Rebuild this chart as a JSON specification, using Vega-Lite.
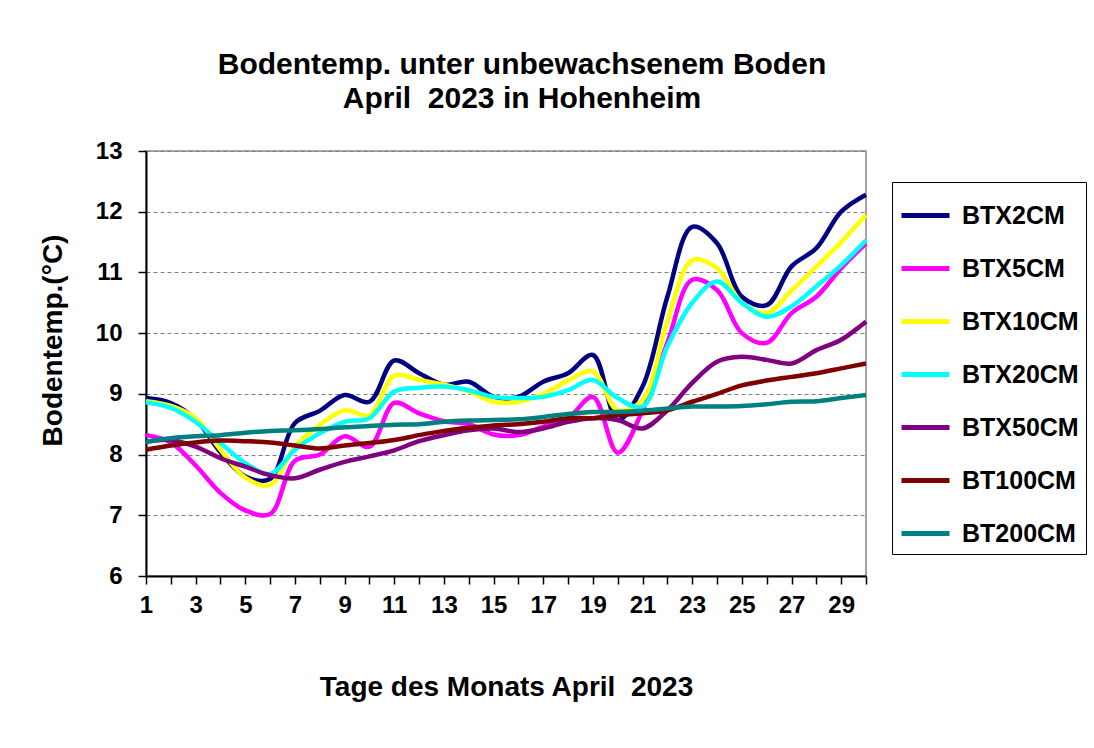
{
  "$schema": "https://vega.github.io/schema/vega-lite/v6.json",
  "width": 720,
  "height": 425,
  "autosize": {"type": "none"},
  "padding": {"left": 146, "top": 151, "right": 228, "bottom": 172},
  "background": "white",
  "title": {
    "text": ["Bodentemp. unter unbewachsenem Boden", "April\u00a0 2023 in Hohenheim"],
    "font": "Liberation Sans",
    "fontSize": 30,
    "fontWeight": "bold",
    "color": "black",
    "anchor": "middle",
    "dx": 16,
    "offset": 25,
    "lineHeight": 34
  },
  "data": {
    "values": [
      {"day": 1, "BTX2CM": 8.93, "BTX5CM": 8.32, "BTX10CM": 8.88, "BTX20CM": 8.86, "BTX50CM": 8.21, "BT100CM": 8.08, "BT200CM": 8.21},
      {"day": 2, "BTX2CM": 8.85, "BTX5CM": 8.2, "BTX10CM": 8.8, "BTX20CM": 8.77, "BTX50CM": 8.24, "BT100CM": 8.15, "BT200CM": 8.27},
      {"day": 3, "BTX2CM": 8.58, "BTX5CM": 7.82, "BTX10CM": 8.6, "BTX20CM": 8.54, "BTX50CM": 8.13, "BT100CM": 8.2, "BT200CM": 8.3},
      {"day": 4, "BTX2CM": 8.04, "BTX5CM": 7.37, "BTX10CM": 8.08, "BTX20CM": 8.19, "BTX50CM": 7.94, "BT100CM": 8.23, "BT200CM": 8.32},
      {"day": 5, "BTX2CM": 7.64, "BTX5CM": 7.08, "BTX10CM": 7.62, "BTX20CM": 7.86, "BTX50CM": 7.8, "BT100CM": 8.22, "BT200CM": 8.36},
      {"day": 6, "BTX2CM": 7.6, "BTX5CM": 7.02, "BTX10CM": 7.5, "BTX20CM": 7.68, "BTX50CM": 7.66, "BT100CM": 8.2, "BT200CM": 8.39},
      {"day": 7, "BTX2CM": 8.52, "BTX5CM": 7.9, "BTX10CM": 8.13, "BTX20CM": 8.08, "BTX50CM": 7.61, "BT100CM": 8.15, "BT200CM": 8.4},
      {"day": 8, "BTX2CM": 8.72, "BTX5CM": 8.0, "BTX10CM": 8.49, "BTX20CM": 8.35, "BTX50CM": 7.75, "BT100CM": 8.1, "BT200CM": 8.42},
      {"day": 9, "BTX2CM": 8.98, "BTX5CM": 8.3, "BTX10CM": 8.73, "BTX20CM": 8.54, "BTX50CM": 7.88, "BT100CM": 8.15, "BT200CM": 8.45},
      {"day": 10, "BTX2CM": 8.87, "BTX5CM": 8.13, "BTX10CM": 8.65, "BTX20CM": 8.6, "BTX50CM": 7.97, "BT100CM": 8.19, "BT200CM": 8.47},
      {"day": 11, "BTX2CM": 9.55, "BTX5CM": 8.85, "BTX10CM": 9.3, "BTX20CM": 9.04, "BTX50CM": 8.07, "BT100CM": 8.24, "BT200CM": 8.49},
      {"day": 12, "BTX2CM": 9.34, "BTX5CM": 8.68, "BTX10CM": 9.23, "BTX20CM": 9.1, "BTX50CM": 8.22, "BT100CM": 8.32, "BT200CM": 8.5},
      {"day": 13, "BTX2CM": 9.15, "BTX5CM": 8.55, "BTX10CM": 9.15, "BTX20CM": 9.12, "BTX50CM": 8.32, "BT100CM": 8.39, "BT200CM": 8.54},
      {"day": 14, "BTX2CM": 9.2, "BTX5CM": 8.5, "BTX10CM": 9.04, "BTX20CM": 9.06, "BTX50CM": 8.4, "BT100CM": 8.44, "BT200CM": 8.56},
      {"day": 15, "BTX2CM": 8.95, "BTX5CM": 8.33, "BTX10CM": 8.87, "BTX20CM": 8.95, "BTX50CM": 8.43, "BT100CM": 8.48, "BT200CM": 8.57},
      {"day": 16, "BTX2CM": 8.95, "BTX5CM": 8.32, "BTX10CM": 8.87, "BTX20CM": 8.93, "BTX50CM": 8.37, "BT100CM": 8.5, "BT200CM": 8.58},
      {"day": 17, "BTX2CM": 9.2, "BTX5CM": 8.46, "BTX10CM": 9.0, "BTX20CM": 8.95, "BTX50CM": 8.43, "BT100CM": 8.54, "BT200CM": 8.62},
      {"day": 18, "BTX2CM": 9.34, "BTX5CM": 8.6, "BTX10CM": 9.22, "BTX20CM": 9.06, "BTX50CM": 8.54, "BT100CM": 8.6, "BT200CM": 8.67},
      {"day": 19, "BTX2CM": 9.64, "BTX5CM": 8.95, "BTX10CM": 9.37, "BTX20CM": 9.23, "BTX50CM": 8.6, "BT100CM": 8.6, "BT200CM": 8.7},
      {"day": 20, "BTX2CM": 8.57, "BTX5CM": 8.03, "BTX10CM": 8.73, "BTX20CM": 8.93, "BTX50CM": 8.57, "BT100CM": 8.65, "BT200CM": 8.7},
      {"day": 21, "BTX2CM": 9.12, "BTX5CM": 8.73, "BTX10CM": 8.9, "BTX20CM": 8.79, "BTX50CM": 8.43, "BT100CM": 8.68, "BT200CM": 8.72},
      {"day": 22, "BTX2CM": 10.6, "BTX5CM": 9.84, "BTX10CM": 10.2, "BTX20CM": 9.78, "BTX50CM": 8.73, "BT100CM": 8.73, "BT200CM": 8.76},
      {"day": 23, "BTX2CM": 11.75, "BTX5CM": 10.88, "BTX10CM": 11.2, "BTX20CM": 10.5, "BTX50CM": 9.18, "BT100CM": 8.87, "BT200CM": 8.79},
      {"day": 24, "BTX2CM": 11.48, "BTX5CM": 10.71, "BTX10CM": 11.07, "BTX20CM": 10.85, "BTX50CM": 9.53, "BT100CM": 9.0, "BT200CM": 8.79},
      {"day": 25, "BTX2CM": 10.6, "BTX5CM": 10.0, "BTX10CM": 10.5, "BTX20CM": 10.5, "BTX50CM": 9.61, "BT100CM": 9.14, "BT200CM": 8.8},
      {"day": 26, "BTX2CM": 10.46, "BTX5CM": 9.84, "BTX10CM": 10.33, "BTX20CM": 10.27, "BTX50CM": 9.56, "BT100CM": 9.22, "BT200CM": 8.83},
      {"day": 27, "BTX2CM": 11.1, "BTX5CM": 10.33, "BTX10CM": 10.7, "BTX20CM": 10.44, "BTX50CM": 9.5, "BT100CM": 9.28, "BT200CM": 8.87},
      {"day": 28, "BTX2CM": 11.4, "BTX5CM": 10.6, "BTX10CM": 11.1, "BTX20CM": 10.77, "BTX50CM": 9.72, "BT100CM": 9.34, "BT200CM": 8.88},
      {"day": 29, "BTX2CM": 12.0, "BTX5CM": 11.07, "BTX10CM": 11.5, "BTX20CM": 11.12, "BTX50CM": 9.89, "BT100CM": 9.42, "BT200CM": 8.93},
      {"day": 30, "BTX2CM": 12.28, "BTX5CM": 11.48, "BTX10CM": 11.95, "BTX20CM": 11.53, "BTX50CM": 10.19, "BT100CM": 9.5, "BT200CM": 8.98}
    ]
  },
  "transform": [
    {"fold": ["BTX2CM", "BTX5CM", "BTX10CM", "BTX20CM", "BTX50CM", "BT100CM", "BT200CM"], "as": ["series", "value"]}
  ],
  "mark": {"type": "line", "interpolate": "catmull-rom", "strokeWidth": 4.5},
  "encoding": {
    "x": {
      "field": "day",
      "type": "quantitative",
      "scale": {"domain": [1, 30], "nice": false, "zero": false},
      "axis": {
        "values": [1,2,3,4,5,6,7,8,9,10,11,12,13,14,15,16,17,18,19,20,21,22,23,24,25,26,27,28,29,30],
        "labelExpr": "datum.value % 2 == 1 ? datum.label : ''",
        "labelOverlap": false,
        "labelFlush": false,
        "grid": false,
        "title": "Tage des Monats April\u00a0 2023",
        "titleFont": "Liberation Sans",
        "titleFontSize": 28,
        "titleFontWeight": "bold",
        "titleColor": "black",
        "titlePadding": 56,
        "labelFont": "Liberation Sans",
        "labelFontSize": 24,
        "labelFontWeight": "bold",
        "labelColor": "black",
        "labelPadding": 9,
        "tickColor": "black",
        "tickSize": 8,
        "tickWidth": 1.5,
        "domainColor": "black",
        "domainWidth": 2
      }
    },
    "y": {
      "field": "value",
      "type": "quantitative",
      "scale": {"domain": [6, 13], "nice": false, "zero": false},
      "axis": {
        "values": [6,7,8,9,10,11,12,13],
        "grid": true,
        "gridColor": "#808080",
        "gridDash": [4, 3],
        "gridWidth": 1,
        "title": "Bodentemp.(°C)",
        "titleFont": "Liberation Sans",
        "titleFontSize": 28,
        "titleFontWeight": "bold",
        "titleColor": "black",
        "titlePadding": 28,
        "titleY": 189,
        "labelFont": "Liberation Sans",
        "labelFontSize": 24,
        "labelFontWeight": "bold",
        "labelColor": "black",
        "labelPadding": 16,
        "tickColor": "black",
        "tickSize": 8,
        "tickWidth": 1.5,
        "domainColor": "black",
        "domainWidth": 2
      }
    },
    "color": {
      "field": "series",
      "type": "nominal",
      "scale": {
        "domain": ["BTX2CM", "BTX5CM", "BTX10CM", "BTX20CM", "BTX50CM", "BT100CM", "BT200CM"],
        "range": ["#000080", "#FF00FF", "#FFFF00", "#00FFFF", "#800080", "#800000", "#008080"]
      },
      "sort": ["BTX2CM", "BTX5CM", "BTX10CM", "BTX20CM", "BTX50CM", "BT100CM", "BT200CM"],
      "legend": {
        "orient": "none",
        "legendX": 746,
        "legendY": 31,
        "title": null,
        "strokeColor": "black",
        "fillColor": "white",
        "padding": 7,
        "symbolType": "stroke",
        "symbolSize": 2304,
        "symbolStrokeWidth": 5,
        "labelFont": "Liberation Sans",
        "labelFontSize": 25,
        "labelFontWeight": "bold",
        "labelColor": "black",
        "labelOffset": 10,
        "rowPadding": 13,
        "labelLimit": 200
      }
    }
  },
  "config": {
    "view": {"stroke": "#888888", "strokeWidth": 1.5}
  }
}
